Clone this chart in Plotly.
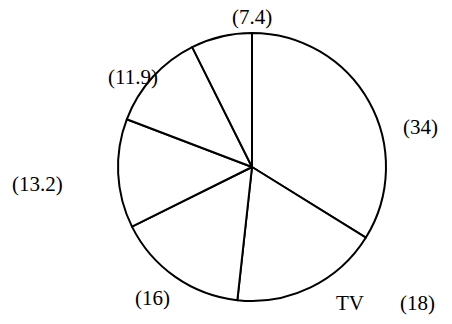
import plotly.graph_objects as go

# slice values, clockwise from 12 o'clock
values = [34, 18, 16, 13.2, 11.9, 7.4]
names = ["", "TV", "", "", "", ""]

# label placement (pixels in the 452x324 frame)
W, H = 452, 324
value_pos = [(420, 127), (417, 303), (152, 298), (37, 184), (133, 77), (252, 17)]
name_pos = [None, (350, 303), None, None, None, None]


def px(x):
    return x / W


def py(y):
    return 1 - y / H


font = dict(family="Liberation Serif, Times New Roman, serif", size=21, color="black")

fig = go.Figure()
fig.add_trace(go.Pie(
    values=values,
    sort=False,
    direction="clockwise",
    rotation=0,
    textinfo="none",
    hoverinfo="value",
    marker=dict(colors=["white"] * len(values), line=dict(color="black", width=2)),
    domain=dict(x=[px(118), px(386)], y=[py(301), py(33)]),
    showlegend=False,
))

annotations = []
for v, (x, y) in zip(values, value_pos):
    annotations.append(dict(x=px(x), y=py(y), xref="paper", yref="paper",
                            xanchor="center", yanchor="middle",
                            text=f"({v:g})", showarrow=False, font=font))
for n, p in zip(names, name_pos):
    if n and p:
        annotations.append(dict(x=px(p[0]), y=py(p[1]), xref="paper", yref="paper",
                                xanchor="center", yanchor="middle",
                                text=n, showarrow=False, font=font))

fig.update_layout(
    width=W, height=H,
    margin=dict(l=0, r=0, t=0, b=0),
    paper_bgcolor="white", plot_bgcolor="white",
    annotations=annotations,
)
# drop the default page margin so the figure fills the window
fig.write_html("out.html", config={"displayModeBar": False},
               post_script="document.body.style.margin='0';")
